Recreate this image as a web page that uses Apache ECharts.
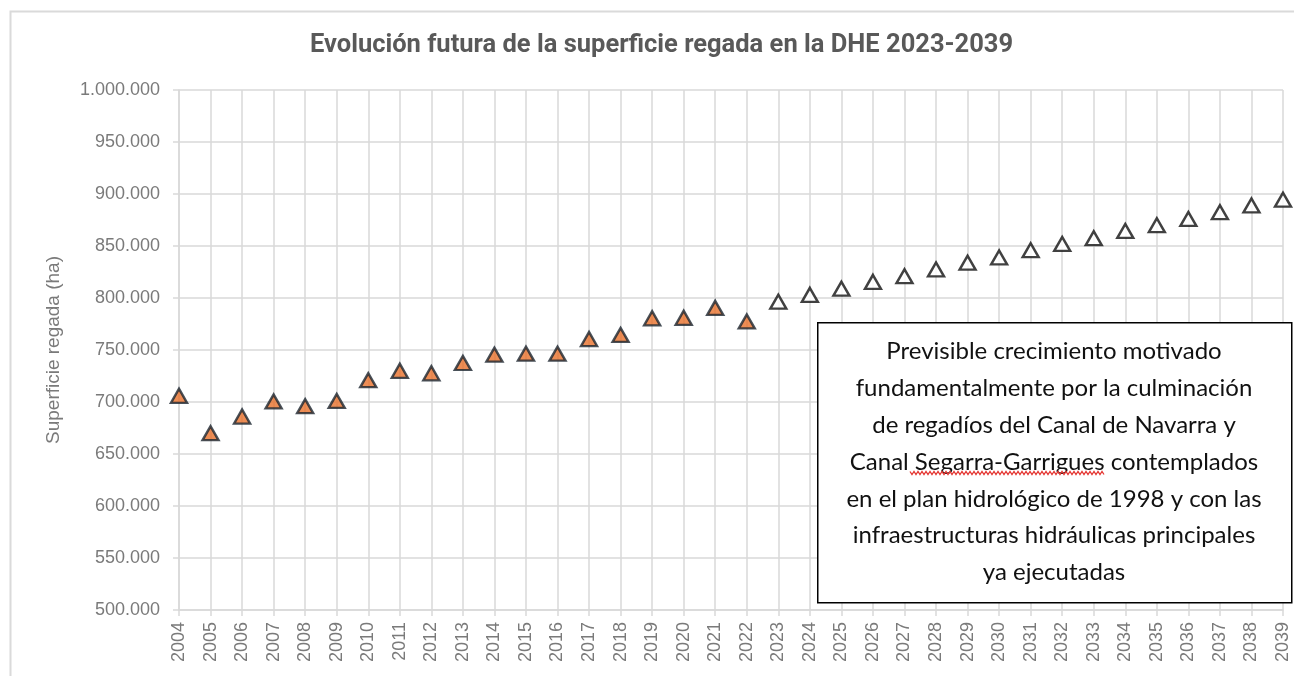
<!DOCTYPE html>
<html>
<head>
<meta charset="utf-8">
<script src="https://cdn.jsdelivr.net/npm/echarts@6/dist/echarts.min.js"></script>
<style>
  html, body {margin: 0; padding: 0; background: #fff;}
  #chart {width: 1294px; height: 676px;}
</style>
</head>
<body>
<div id="chart"></div>
<script>
  // superficie regada (ha), registrada 2004-2022
  let histYears = [2004, 2005, 2006, 2007, 2008, 2009, 2010, 2011, 2012, 2013,
                   2014, 2015, 2016, 2017, 2018, 2019, 2020, 2021, 2022];
  let histValues = [706000, 670000, 686000, 700500, 696000, 701000, 721000, 730000, 727600, 737500,
                    745500, 746500, 746500, 760500, 764500, 780500, 781000, 790500, 777500];

  // previsión 2023-2039
  let futYears = [2023, 2024, 2025, 2026, 2027, 2028, 2029, 2030, 2031,
                  2032, 2033, 2034, 2035, 2036, 2037, 2038, 2039];
  let futValues = [796500, 803000, 809000, 815500, 821000, 827500, 834000, 839000, 846000,
                   852000, 857500, 864500, 870000, 876000, 882500, 889000, 894500];

  let yTicks = {min: 500000, max: 1000000, step: 50000};
  let xTicks = {min: 2004, max: 2039, step: 1};

  let noteLines = [
    'Previsible crecimiento motivado',
    'fundamentalmente por la culminación',
    'de regadíos del Canal de Navarra y',
    'Canal Segarra-Garrigues contemplados',
    'en el plan hidrológico de 1998 y con las',
    'infraestructuras hidráulicas principales',
    'ya ejecutadas'
  ];

  let gridColor = '#d9d9d9';
  let labelColor = '#7a7a7a';

  function fmtMiles(v) {
    return String(v).replace(/\B(?=(\d{3})+(?!\d))/g, '.');
  }

  function pairs(xs, ys) {
    return xs.map(function(x, i) { return [x, ys[i]]; });
  }

  // subrayado ondulado del corrector (decorativo)
  function squiggle(x0, x1, y) {
    let pts = [];
    let k = 0;
    for (let x = x0; x <= x1; x += 2) {
      pts.push([x, y + (k % 2 === 0 ? -1.5 : 1.5)]);
      k++;
    }
    return pts;
  }

  let chart = echarts.init(document.getElementById('chart'));

  let option = {
    animation: false,
    title: {
      text: 'Evolución futura de la superficie regada en la DHE 2023-2039',
      left: 305,
      top: 28,
      textStyle: {fontFamily: 'Roboto', fontWeight: 'bold', fontSize: 25.5, color: '#595959'}
    },
    grid: {left: 179, right: 11, top: 90, bottom: 66, containLabel: false},
    xAxis: {
      type: 'value',
      min: xTicks.min,
      max: xTicks.max,
      interval: xTicks.step,
      axisLine: {show: true, lineStyle: {color: gridColor, width: 1.5}},
      axisTick: {show: true, length: 6, lineStyle: {color: gridColor, width: 1.5}},
      splitLine: {show: true, lineStyle: {color: gridColor, width: 1.5}},
      axisLabel: {
        rotate: 90,
        margin: 12,
        color: labelColor,
        fontFamily: 'Liberation Sans',
        fontSize: 18,
        formatter: function(v) { return String(v); }
      }
    },
    yAxis: {
      type: 'value',
      min: yTicks.min,
      max: yTicks.max,
      interval: yTicks.step,
      name: 'Superficie regada (ha)',
      nameLocation: 'middle',
      nameRotate: 90,
      nameGap: 116,
      nameTextStyle: {color: labelColor, fontFamily: 'Liberation Sans', fontSize: 19},
      axisLine: {show: true, lineStyle: {color: gridColor, width: 1.5}},
      axisTick: {show: true, length: 6, lineStyle: {color: gridColor, width: 1.5}},
      splitLine: {show: true, lineStyle: {color: gridColor, width: 1.5}},
      axisLabel: {
        margin: 19,
        color: labelColor,
        fontFamily: 'Liberation Sans',
        fontSize: 18,
        formatter: fmtMiles
      }
    },
    series: [
      {
        name: 'Histórico',
        type: 'scatter',
        symbol: 'triangle',
        symbolSize: [16, 14],
        itemStyle: {color: '#e8702a', borderColor: '#1c2630', borderWidth: 2.4},
        data: pairs(histYears, histValues),
        z: 5
      },
      {
        name: 'Previsión',
        type: 'scatter',
        symbol: 'triangle',
        symbolSize: [16, 14],
        itemStyle: {color: '#ffffff', borderColor: '#111111', borderWidth: 2.4},
        data: pairs(futYears, futValues),
        z: 5
      }
    ],
    graphic: [
      {
        type: 'rect',
        left: 8, top: 9,
        shape: {width: 1400, height: 800},
        style: {fill: 'none', stroke: '#dadada', lineWidth: 2},
        silent: true,
        z: 0
      },
      {
        type: 'rect',
        left: 817, top: 322,
        shape: {width: 474, height: 280},
        style: {fill: '#ffffff', stroke: '#000000', lineWidth: 1.5},
        z: 100
      },
      {
        type: 'text',
        x: 1054, y: 462,
        style: {
          text: noteLines.join('\n'),
          fill: '#111111',
          font: '24px Lato',
          lineHeight: 36.8,
          align: 'center',
          verticalAlign: 'middle'
        },
        z: 101
      },
      {
        type: 'polyline',
        shape: {points: squiggle(910, 1105, 473)},
        style: {stroke: '#e53935', lineWidth: 1.3, fill: 'none'},
        silent: true,
        z: 102
      }
    ]
  };

  chart.setOption(option);
</script>
</body>
</html>
